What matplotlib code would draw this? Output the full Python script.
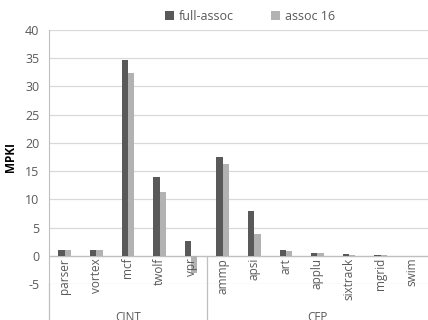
import matplotlib
matplotlib.use("Agg")
import matplotlib.pyplot as plt
import matplotlib.transforms as mtransforms
import numpy as np

plt.rcParams['font.family'] = ['Open Sans', 'DejaVu Sans']

# data
benchmarks = ['parser', 'vortex', 'mcf', 'twolf', 'vpr',
              'ammp', 'apsi', 'art', 'applu', 'sixtrack', 'mgrid', 'swim']
full_assoc = [1.0, 1.0, 34.7, 14.0, 2.7, 17.5, 7.9, 1.0, 0.5, 0.3, 0.2, 0.0]
assoc_16 = [1.0, 1.0, 32.3, 11.3, -3.0, 16.2, 3.9, 0.9, 0.5, 0.2, 0.05, 0.0]
groups = ['CINT', 'CFP']
group_sizes = [5, 7]
yticks = [-5, 0, 5, 10, 15, 20, 25, 30, 35, 40]

txt_col = '#595959'
grid_col = '#d9d9d9'
axis_col = '#bfbfbf'

fig = plt.figure(figsize=(4.28, 3.2), dpi=100)
ax = fig.add_axes([49 / 428, (320 - 284) / 320, 379 / 428, (284 - 30) / 320])

x = np.arange(len(benchmarks))
w = 0.2
ax.bar(x - w / 2, full_assoc, w, color='#595959', label='full-assoc', zorder=3)
ax.bar(x + w / 2, assoc_16, w, color='#b2b2b2', label='assoc 16', zorder=3)

ax.set_xlim(-0.5, len(benchmarks) - 0.5)
ax.set_ylim(-5, 40)
ax.set_yticks(yticks)
ax.set_yticklabels([str(t) for t in yticks], fontsize=9, color=txt_col)
ax.tick_params(axis='y', length=0, pad=7)
ax.set_xticks([])
ax.grid(axis='y', color=grid_col, linewidth=0.9, zorder=0)
for s in ['top', 'right', 'bottom']:
    ax.spines[s].set_visible(False)
ax.spines['left'].set_color(axis_col)
ax.axhline(0, color=axis_col, linewidth=0.9, zorder=2)

ax.set_ylabel('MPKI', fontsize=8.5, fontweight='bold', color='#000000')
ax.yaxis.set_label_coords(-0.085, 0.5)

# category labels below the zero line
for i, name in enumerate(benchmarks):
    ax.text(i, -0.35, name, rotation=90, ha='center', va='top',
            fontsize=8.5, color=txt_col)

# multi-level axis: group separators and names
trans = mtransforms.blended_transform_factory(ax.transData, ax.transAxes)
ax.plot([-0.5, -0.5], [0, -0.2], transform=trans, color=axis_col,
        linewidth=0.9, clip_on=False)
start = 0
for g, n in zip(groups, group_sizes):
    end = start + n
    ax.text((start + end - 1) / 2, -0.105, g, transform=trans,
            ha='center', va='top', fontsize=8.5, color=txt_col)
    if end < len(benchmarks):
        ax.plot([end - 0.5, end - 0.5], [5 / 45, -0.2], transform=trans,
                color=axis_col, linewidth=0.9, clip_on=False)
    start = end

ax.legend(loc='upper center', bbox_to_anchor=(0.53, 1.125), ncol=2, frameon=False,
          fontsize=9, handlelength=0.7, handleheight=0.7, columnspacing=3.0,
          handletextpad=0.4, labelcolor=txt_col)

fig.savefig('out.png', dpi=100)
